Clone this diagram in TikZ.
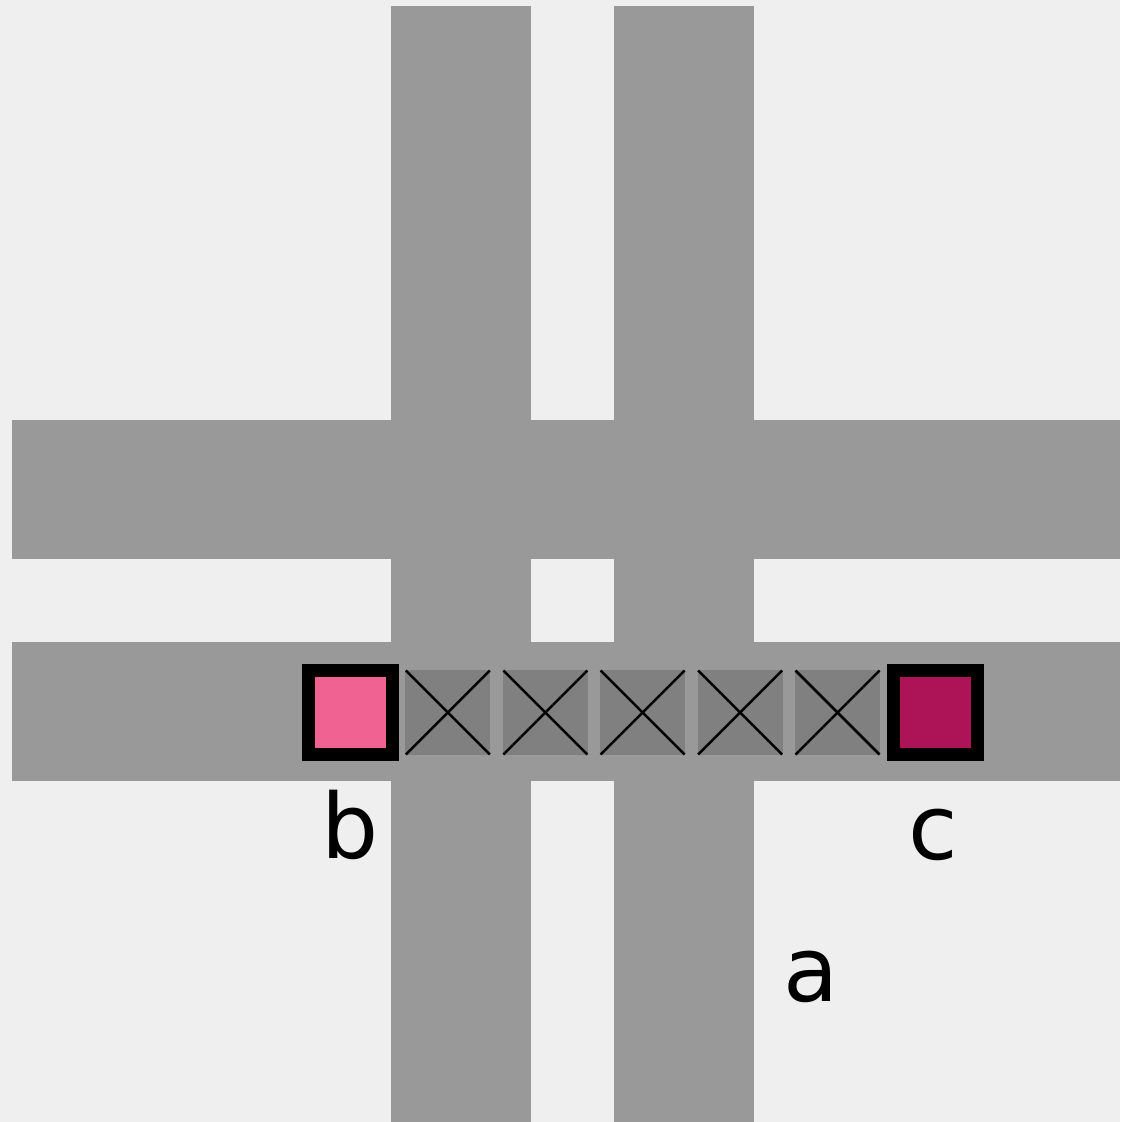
\documentclass[tikz,border=0pt]{standalone}
\usepackage{fontspec}
\setmainfont{DejaVu Sans}
\definecolor{bgc}{HTML}{EFEFEF}
\definecolor{road}{HTML}{999999}
\definecolor{cell}{HTML}{808080}
\definecolor{pinkA}{HTML}{F06292}
\definecolor{pinkB}{HTML}{AD1457}
\tikzset{
  roadfill/.style={fill=road,draw=none},
  cellbox/.style={fill=cell,draw=none},
  crossline/.style={draw=black,line width=2.5pt},
  endbox/.style={line width=13pt,draw=black},
  lab/.style={font=\fontsize{90}{96}\selectfont,anchor=base,inner sep=0pt}
}
\begin{document}
\begin{tikzpicture}[x=1pt,y=-1pt]
\useasboundingbox (0,0) rectangle (1120,1122);
\fill[bgc] (0,0) rectangle (1120,1122);
% roads
\fill[roadfill] (391,6) rectangle (531,1122);
\fill[roadfill] (614,6) rectangle (754,1122);
\fill[roadfill] (12,420) rectangle (1120,559);
\fill[roadfill] (12,642) rectangle (1120,781);
% crossed cells
\foreach \i in {1,...,5}{
  \pgfmathsetmacro{\cx}{350.5+97.4*\i}
  \fill[cellbox] (\cx-42.5,670) rectangle (\cx+42.5,755);
  \draw[crossline] (\cx-42,670.5) -- (\cx+42,754.5);
  \draw[crossline] (\cx-42,754.5) -- (\cx+42,670.5);
}
% end boxes
\draw[endbox,fill=pinkA] (308.5,670.5) rectangle (392.5,754.5);
\draw[endbox,fill=pinkB] (893,670.5) rectangle (977,754.5);
% labels
\node[lab] (b) at (350,858) {b};
\node[lab] (c) at (933,859) {c};
\node[lab] (a) at (811,1001) {a};
\end{tikzpicture}
\end{document}
